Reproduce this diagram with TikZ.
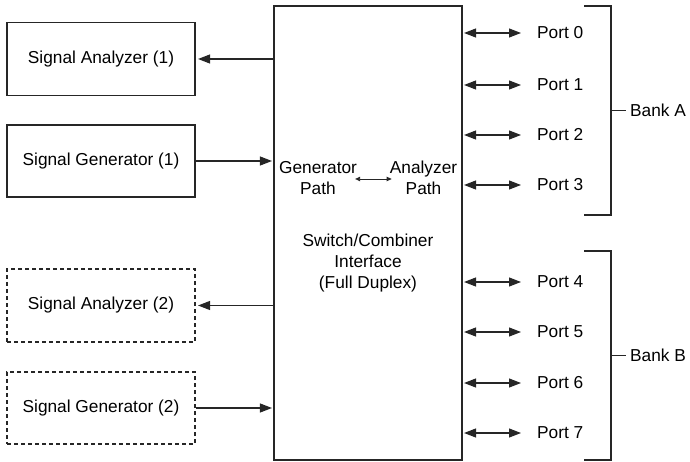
\documentclass[tikz,border=0pt]{standalone}
\usepackage{fontspec}
\setmainfont{Liberation Sans}
\usetikzlibrary{arrows.meta}
\begin{document}
\begin{tikzpicture}[x=1pt,y=-1pt,
  every node/.style={font=\fontsize{17.3}{21}\selectfont, text=black},
  ln/.style={draw=black!85, line width=1.1pt},
  blk/.style={ln, rectangle, minimum width=188pt, inner sep=0pt},
  dblk/.style={blk, dash pattern=on 4pt off 3pt},
  arr/.style={ln, -{Triangle[length=12pt,width=9pt]}},
  darr/.style={ln, {Triangle[length=12pt,width=9pt]}-{Triangle[length=12pt,width=9pt]}},
  sarr/.style={ln, line width=0.9pt, {Triangle[length=5pt,width=4.5pt]}-{Triangle[length=5pt,width=4.5pt]}},
  port/.style={anchor=west, inner sep=0pt},
  txt/.style={align=center, inner sep=0pt}
]
\useasboundingbox (0,0) rectangle (690,462);

% main switch box
\node[ln, rectangle, minimum width=188pt, minimum height=454pt, inner sep=0pt] (sw) at (368,233) {};
\node[txt] (swtxt) at (368,263) {Switch/Combiner\\Interface\\(Full Duplex)};
\node[txt] (gen) at (318,178) {Generator\\Path};
\node[txt] (ana) at (423.5,178) {Analyzer\\Path};
\draw[sarr] ([xshift=-2pt]gen.east |- 0,179) -- ([xshift=2pt]ana.west |- 0,179);

% left instruments
\node[blk, minimum height=73pt] (sa1) at (101,59) {Signal Analyzer (1)};
\node[blk, minimum height=72pt] (sg1) at (101,161) {Signal Generator (1)};
\node[dblk, minimum height=73pt] (sa2) at (101,305.5) {Signal Analyzer (2)};
\node[dblk, minimum height=72pt] (sg2) at (101,408) {Signal Generator (2)};

\draw[arr, shorten >=2.5pt] (sw.west |- sa1.east) -- (sa1.east);
\draw[arr, shorten >=1.5pt] (sg1.east) -- (sw.west |- sg1.east);
\draw[arr, shorten >=2.5pt] (sw.west |- sa2.east) -- (sa2.east);
\draw[arr, shorten >=1.5pt] (sg2.east) -- (sw.west |- sg2.east);

% ports
\foreach \i/\y in {0/33,1/85,2/135,3/185,4/282,5/332,6/383,7/433}{
  \node[port] (p\i) at (537,\y) {Port \i};
  \draw[darr] ([xshift=1.5pt]sw.east |- p\i.west) -- ([xshift=-16pt]p\i.west);
}

% bank brackets
\coordinate (ba) at (611,110.5);
\coordinate (bb) at (611,355.5);
\draw[ln] (584,6) -- (611,6) -- (611,215) -- (584,215);
\draw[ln] (584,251) -- (611,251) -- (611,460) -- (584,460);
\node[port] (bankA) at (630,110.5) {Bank A};
\node[port] (bankB) at (630,355.5) {Bank B};
\draw[ln] (ba) -- ([xshift=-4pt]bankA.west);
\draw[ln] (bb) -- ([xshift=-4pt]bankB.west);
\end{tikzpicture}
\end{document}
